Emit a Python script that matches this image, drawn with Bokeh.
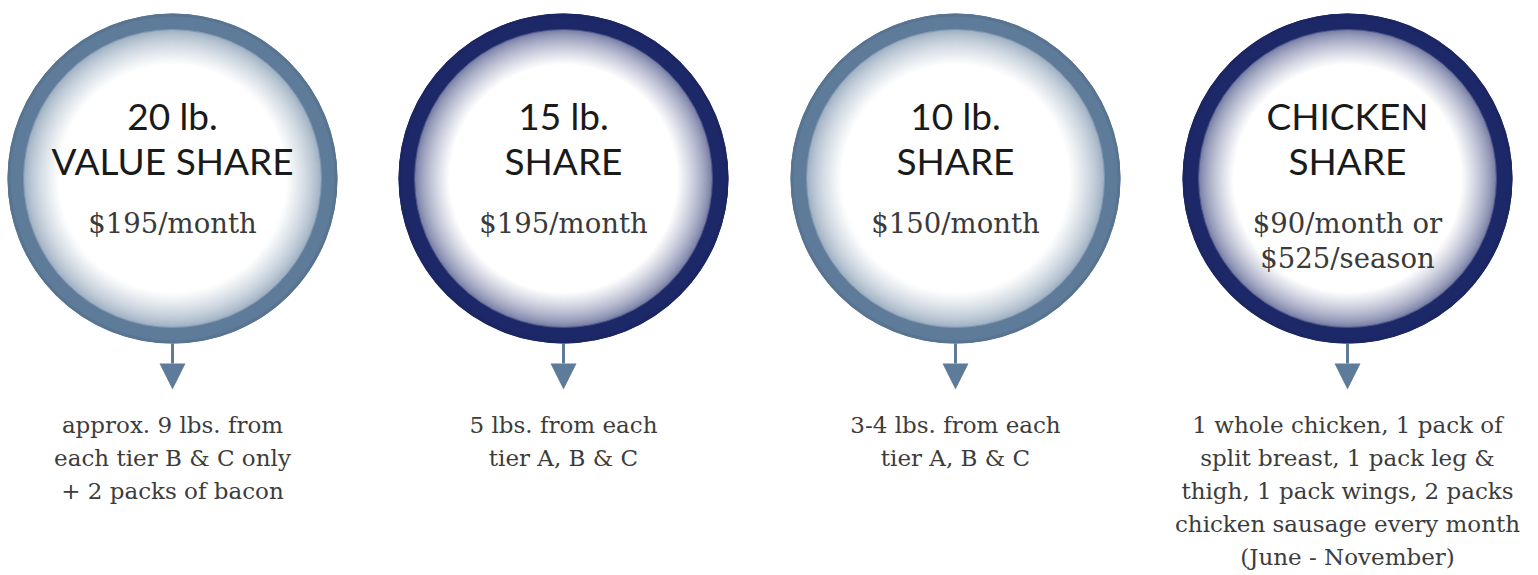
from bokeh.plotting import figure
from bokeh.models import Range1d
from bokeh.core.properties import value
from bokeh.embed import file_html
from bokeh.resources import INLINE

# ---- data ----
titles_line1 = ["20 lb.", "15 lb.", "10 lb.", "CHICKEN"]
titles_line2 = ["VALUE SHARE", "SHARE", "SHARE", "SHARE"]
prices = [["$195/month"], ["$195/month"], ["$150/month"], ["$90/month or", "$525/season"]]
descriptions = [
    ["approx. 9 lbs. from", "each tier B & C only", "+ 2 packs of bacon"],
    ["5 lbs. from each", "tier A, B & C"],
    ["3-4 lbs. from each", "tier A, B & C"],
    ["1 whole chicken, 1 pack of", "split breast, 1 pack leg &",
     "thigh, 1 pack wings, 2 packs", "chicken sausage every month",
     "(June - November)"],
]
ring_colors = ["#5e7b9a", "#1d2869", "#5e7b9a", "#1d2869"]

# ---- layout (styles) ----
centers_x = [172, 563, 955, 1347]
cy = 178
R = 165
ring_w = 16
grad_inner = 114
arrow_color = "#5e7b9a"

W, H = 1530, 575
p = figure(width=W, height=H, output_backend="svg", toolbar_location=None,
           x_range=Range1d(0, W), y_range=Range1d(H, 0),
           min_border=0, min_border_left=0, min_border_right=0,
           min_border_top=0, min_border_bottom=0)
p.axis.visible = False
p.grid.visible = False
p.outline_line_color = None
p.background_fill_color = "white"
p.border_fill_color = "white"


def hex2rgb(h):
    h = h.lstrip("#")
    return tuple(int(h[i:i + 2], 16) for i in (0, 2, 4))


def mix(c1, c2, t):
    return "#%02x%02x%02x" % tuple(int(round(a + (b - a) * t)) for a, b in zip(c1, c2))


white = (255, 255, 255)
for cx, col in zip(centers_x, ring_colors):
    base = hex2rgb(col)
    p.circle(x=[cx], y=[cy], radius=R, fill_color=col, line_color=None)
    # slight darker shading inside the ring edge
    p.circle(x=[cx], y=[cy], radius=R - 1.5, fill_color=None,
             line_color=mix(base, (0, 0, 0), 0.06), line_width=3)
    r_start = R - ring_w
    start_col = hex2rgb(mix(base, white, 0.38))
    n = 60
    for i in range(n + 1):
        t = i / n
        r = r_start - (r_start - grad_inner) * t
        c = mix(start_col, white, t ** 0.75)
        p.circle(x=[cx], y=[cy], radius=r, fill_color=c, line_color=None)
    p.circle(x=[cx], y=[cy], radius=r_start, fill_color=None,
             line_color=mix(base, white, 0.2), line_width=1)

# arrows
stem_top = cy + R
stem_bot = stem_top + 20
tri_h = 26
tri_w = 13
p.segment(x0=centers_x, y0=[stem_top] * 4, x1=centers_x, y1=[stem_bot] * 4,
          line_color=arrow_color, line_width=3)
p.patches(xs=[[x - tri_w, x + tri_w, x] for x in centers_x],
          ys=[[stem_bot, stem_bot, stem_bot + tri_h] for _ in centers_x],
          fill_color=arrow_color, line_color=None)


def put(xs, baselines, texts, font, fs, color):
    # place text via its middle so the baseline lands near the wanted value
    ys = [b - 0.35 * fs for b in baselines]
    p.text(x=xs, y=ys, text=texts, text_font=font, text_font_size=f"{fs}px",
           text_align="center", text_baseline="middle", text_color=color)


title_font = value("Lato")
put(centers_x, [128] * 4, titles_line1, title_font, 37, "#1a1a1a")
put(centers_x, [173] * 4, titles_line2, title_font, 37, "#1a1a1a")

serif = value("DejaVu Serif")
px, py, pt = [], [], []
for cx, lines in zip(centers_x, prices):
    for j, line in enumerate(lines):
        px.append(cx)
        py.append(232 + 35 * j)
        pt.append(line)
put(px, py, pt, serif, 27.5, "#3a3a3a")

dx, dy, dt = [], [], []
for cx, lines in zip(centers_x, descriptions):
    for j, line in enumerate(lines):
        dx.append(cx)
        dy.append(433 + 33 * j)
        dt.append(line)
put(dx, dy, dt, serif, 23, "#3c3c3c")

open("out.html", "w").write(file_html(p, INLINE))
